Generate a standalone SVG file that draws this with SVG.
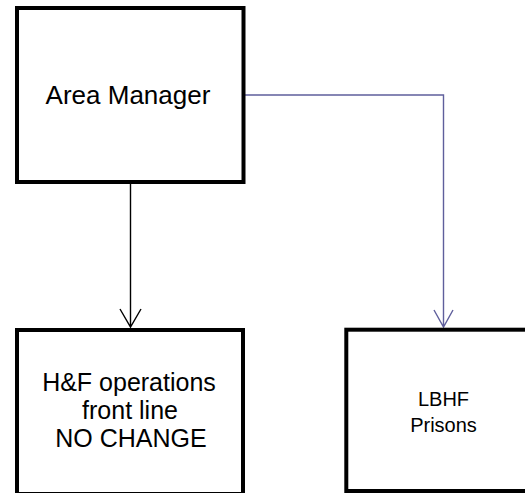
<svg xmlns="http://www.w3.org/2000/svg" width="525" height="493" viewBox="0 0 525 493">
<style>
.box{fill:#ffffff;stroke:#000000;stroke-width:4}
.t{font-family:"Liberation Sans",Arial,sans-serif;fill:#000000;text-anchor:middle}
.c{fill:none;stroke-width:1.4}
</style>
<rect width="525" height="493" fill="#ffffff"/>
<g id="connectors">
<path class="c" stroke="#000000" d="M130.5 184 V327 M120 309 L130.5 327 L141 309"/>
<path class="c" stroke="#5f5f9c" d="M245 95 H443.5 V327 M434 310 L443.5 327 L453 310"/>
</g>
<g id="area-manager">
<rect class="box" x="17" y="8" width="226.5" height="174"/>
<text class="t" x="128" y="104" font-size="26">Area Manager</text>
</g>
<g id="hf-operations">
<rect class="box" x="17" y="330" width="226" height="164"/>
<text class="t" font-size="25"><tspan x="129" y="390.5">H&amp;F operations</tspan><tspan x="130" y="418.5">front line</tspan><tspan x="131" y="446.5">NO CHANGE</tspan></text>
</g>
<g id="lbhf-prisons">
<rect class="box" x="346.3" y="329.7" width="190" height="161.3"/>
<text class="t" font-size="20"><tspan x="443.5" y="406">LBHF</tspan><tspan x="443.5" y="431.5">Prisons</tspan></text>
</g>
</svg>
